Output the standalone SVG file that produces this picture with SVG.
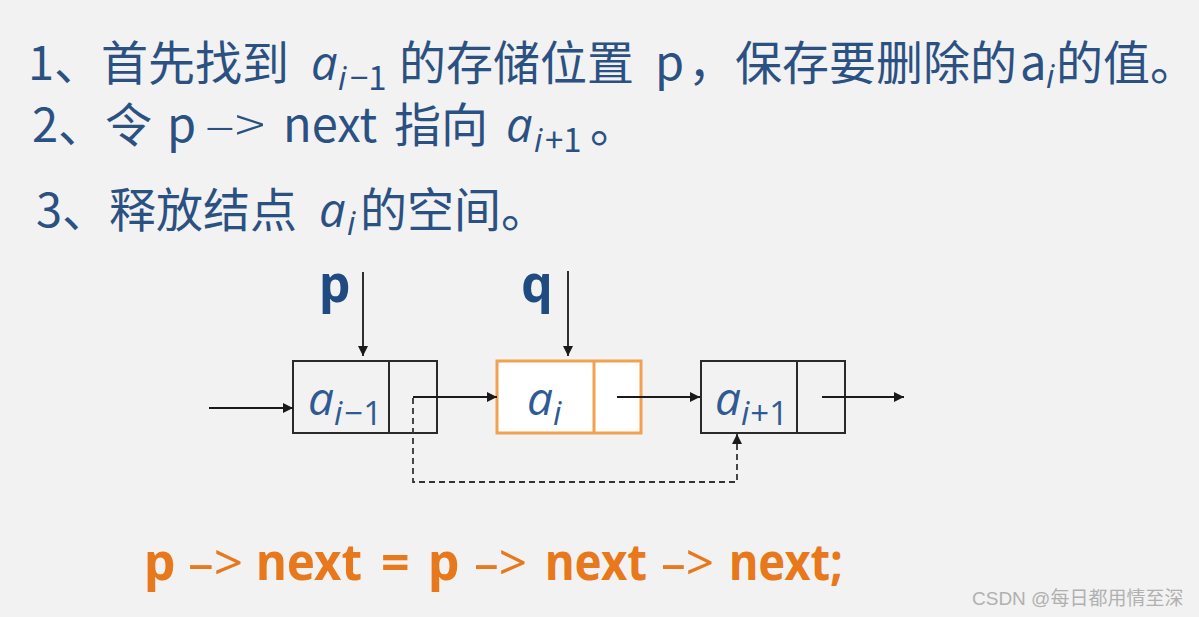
<svg xmlns="http://www.w3.org/2000/svg" width="1199" height="617" viewBox="0 0 1199 617">
<style>
.t{font-family:"Noto Sans CJK SC","Noto Sans",sans-serif;font-size:47px;fill:#2b5183}
.it{font-family:"Open Sans","Noto Sans",sans-serif;font-style:italic}
.sub{font-size:33px}
.lbl{font-family:"Noto Sans","Open Sans",sans-serif;font-weight:bold;font-size:50px;fill:#1f4b80}
.nd{font-family:"Open Sans","Noto Sans",sans-serif;font-style:italic;font-size:46px;fill:#2f5a92}
.nds{font-size:33px}
.f{font-family:"Noto Sans","Open Sans",sans-serif;font-weight:bold;font-size:50px;fill:#e8781c}
.fa{font-weight:normal}
.box{fill:none;stroke:#2a2a2a;stroke-width:2}
.obox{fill:#ffffff;stroke:#f2a24f;stroke-width:3}
.ln{fill:none;stroke:#1a1a1a;stroke-width:1.8}
.dash{fill:none;stroke:#333;stroke-width:1.8;stroke-dasharray:6 4}
.wm{font-family:"Liberation Sans","Noto Sans CJK SC",sans-serif;font-size:19px;fill:#b0b0b0}
</style>
<defs>
<marker id="ah" viewBox="0 0 10 10" refX="10" refY="5" markerWidth="12" markerHeight="10" markerUnits="userSpaceOnUse" orient="auto">
<path d="M0,0 L10,5 L0,10 z" fill="#1a1a1a"/>
</marker>
</defs>
<rect width="1199" height="617" fill="#f2f2f2"/>
<g id="steps">
<text class="t" y="80"><tspan x="28">1、首先找到</tspan><tspan class="it" x="311">a</tspan><tspan class="it sub" x="338" dy="10">i</tspan><tspan class="sub" x="350">−1</tspan><tspan x="399" dy="-10">的存储位置</tspan><tspan x="655">p</tspan><tspan x="688">，保存要删除的</tspan><tspan x="1020">a</tspan><tspan class="it sub" x="1046" dy="8">i</tspan><tspan x="1056" dy="-8">的值。</tspan></text>
<text class="t" y="142"><tspan x="32">2、令</tspan><tspan x="167">p</tspan><tspan x="205" font-weight="300" textLength="60" lengthAdjust="spacingAndGlyphs">–&gt;</tspan><tspan x="283">next</tspan><tspan x="394">指向</tspan><tspan class="it" x="506">a</tspan><tspan class="it sub" x="534" dy="10">i</tspan><tspan class="sub" x="545">+1</tspan><tspan x="590" dy="-10">。</tspan></text>
<text class="t" y="227"><tspan x="36">3、释放结点</tspan><tspan class="it" x="319">a</tspan><tspan class="it sub" x="347" dy="8">i</tspan><tspan x="360" dy="-8">的空间。</tspan></text>
</g>
<g id="label-p"><text class="lbl" x="319" y="302">p</text></g>
<g id="label-q"><text class="lbl" x="521" y="302">q</text></g>
<g id="node-ai-1">
<rect class="box" x="293" y="361" width="144" height="72"/>
<line class="box" x1="389" y1="361" x2="389" y2="433"/>
<text class="nd" x="308" y="415">a<tspan class="nds" dy="10">i</tspan><tspan class="nds" font-style="normal" dx="2">−1</tspan></text>
</g>
<g id="node-ai">
<rect class="obox" x="497" y="361" width="144" height="72"/>
<line class="obox" x1="594" y1="361" x2="594" y2="433"/>
<text class="nd" x="527" y="415">a<tspan class="nds" dy="10">i</tspan></text>
</g>
<g id="node-ai+1">
<rect class="box" x="701" y="361" width="144" height="72"/>
<line class="box" x1="797" y1="361" x2="797" y2="433"/>
<text class="nd" x="715" y="415">a<tspan class="nds" dy="10">i</tspan><tspan class="nds" font-style="normal" dx="1">+1</tspan></text>
</g>
<g id="connectors">
<line class="ln" x1="363" y1="272" x2="363" y2="356" marker-end="url(#ah)"/>
<line class="ln" x1="568" y1="271" x2="568" y2="356" marker-end="url(#ah)"/>
<line class="ln" x1="209" y1="408" x2="293" y2="408" marker-end="url(#ah)"/>
<line class="ln" x1="413" y1="397" x2="497" y2="397" marker-end="url(#ah)"/>
<line class="ln" x1="617" y1="397" x2="700" y2="397" marker-end="url(#ah)"/>
<line class="ln" x1="822" y1="397" x2="904" y2="397" marker-end="url(#ah)"/>
<path class="dash" d="M413,398 V482 H737 V434" marker-end="url(#ah)"/>
</g>
<g id="formula">
<text class="f" y="580"><tspan x="144">p</tspan><tspan class="fa" x="188" textLength="55" lengthAdjust="spacingAndGlyphs">–&gt;</tspan><tspan x="256" textLength="106" lengthAdjust="spacingAndGlyphs">next</tspan><tspan x="381">=</tspan><tspan x="428">p</tspan><tspan class="fa" x="474" textLength="53" lengthAdjust="spacingAndGlyphs">–&gt;</tspan><tspan x="545" textLength="102" lengthAdjust="spacingAndGlyphs">next</tspan><tspan class="fa" x="661" textLength="53" lengthAdjust="spacingAndGlyphs">–&gt;</tspan><tspan x="729" textLength="114" lengthAdjust="spacingAndGlyphs">next;</tspan></text>
</g>
<text class="wm" x="972" y="605">CSDN @每日都用情至深</text>
</svg>
